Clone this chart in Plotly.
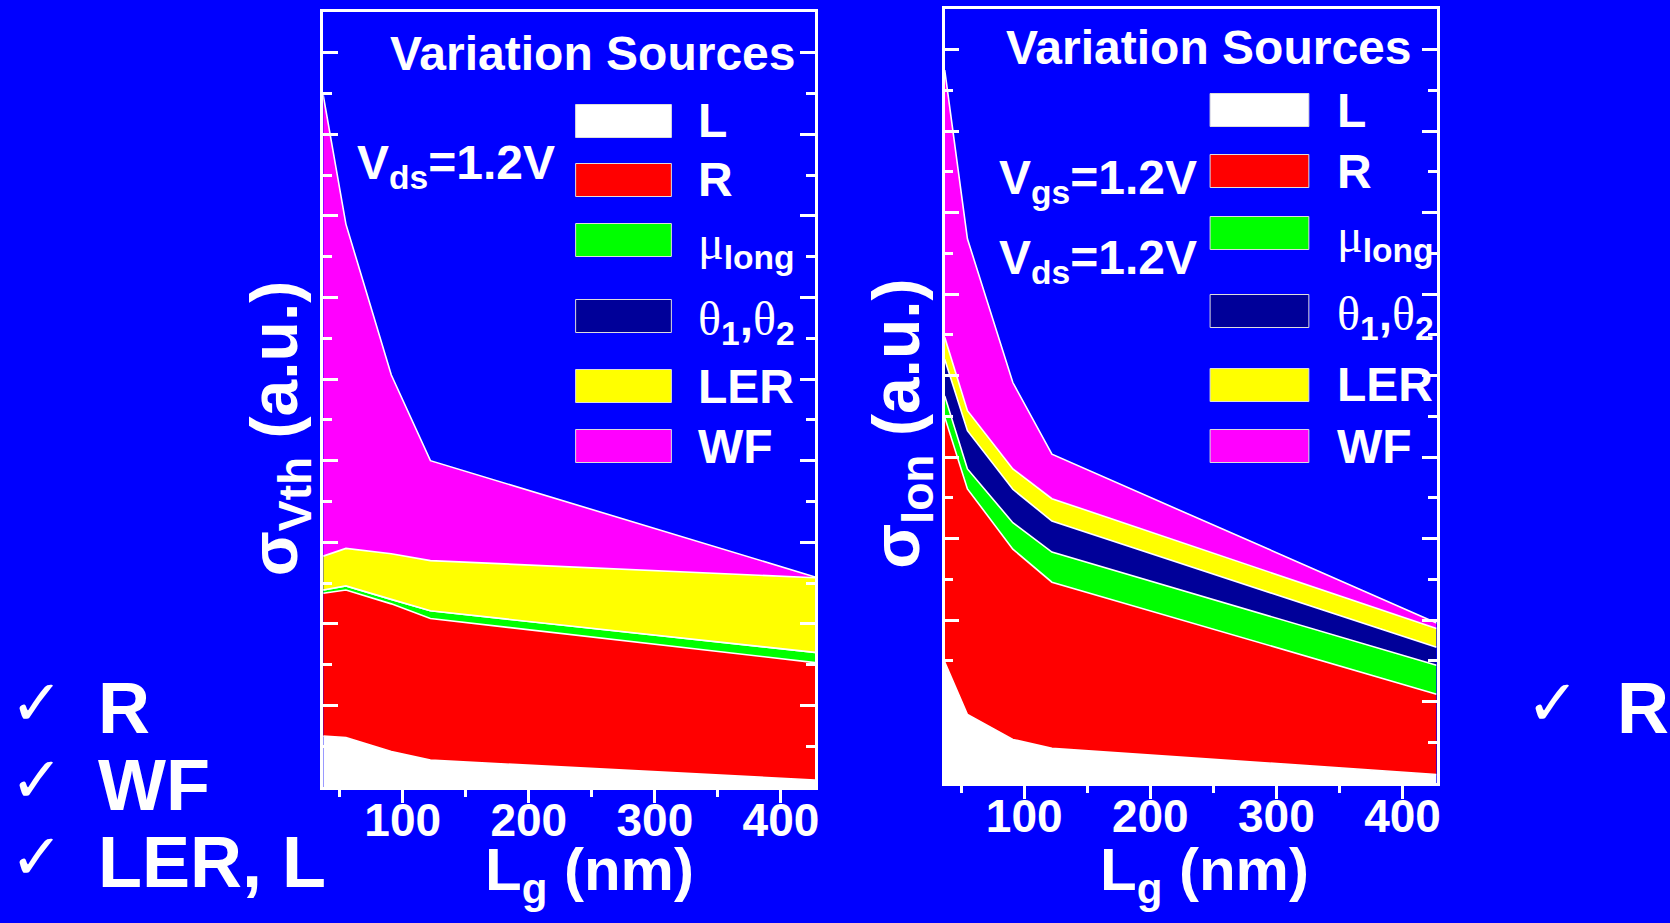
import plotly.graph_objects as go

# gate length (nm) at which the variation was simulated
lg_nm = [37, 55, 91, 122, 427]

# sigma Vth, top edge of each stacked band (a.u.)
vth_L = [1.25, 1.21, 0.87, 0.66, 0.17]
vth_R = [4.75, 4.83, 4.49, 4.13, 3.05]
vth_mu = [4.83, 4.93, 4.60, 4.32, 3.30]
vth_theta = [4.83, 4.93, 4.60, 4.32, 3.30]
vth_LER = [5.66, 5.85, 5.72, 5.55, 5.13]
vth_WF = [16.96, 13.8, 10.1, 8.0, 5.15]

# sigma Ion, top edge of each stacked band (a.u.)
ion_L = [2.97, 1.68, 1.07, 0.85, 0.21]
ion_R = [8.98, 7.22, 5.74, 4.93, 2.18]
ion_mu = [9.50, 7.71, 6.39, 5.67, 2.89]
ion_theta = [10.40, 8.65, 7.21, 6.43, 3.33]
ion_LER = [10.94, 9.14, 7.71, 6.98, 3.79]
ion_WF = [17.5, 13.36, 9.83, 8.07, 3.93]

sources = ["L", "R", "μ<sub>long</sub>", "θ<sub>1</sub>,θ<sub>2</sub>", "LER", "WF"]
colors = ["#FFFFFF", "#FF0000", "#00FF00", "#000099", "#FFFF00", "#FF00FF"]
x_ticks = [100, 200, 300, 400]

BG = "#0000FF"
FONT = "Liberation Sans, Arial, sans-serif"
W, H = 1670, 923


def px(x):
    return x / W


def py(y):
    return 1 - y / H


fig = go.Figure()

panels = [
    ("x", "y", [vth_L, vth_R, vth_mu, vth_theta, vth_LER, vth_WF]),
    ("x2", "y2", [ion_L, ion_R, ion_mu, ion_theta, ion_LER, ion_WF]),
]
for xa, ya, bands in panels:
    for i, (band, col) in enumerate(zip(bands, colors)):
        fig.add_trace(go.Scatter(
            x=lg_nm, y=band, xaxis=xa, yaxis=ya,
            mode="lines", line=dict(color="white", width=1.6),
            fill="tozeroy" if i == 0 else "tonexty", fillcolor=col,
            showlegend=False, hoverinfo="skip",
        ))

xcommon = dict(
    range=[37, 427], tickvals=x_ticks, ticks="outside", ticklen=13, tickwidth=2.5,
    tickcolor="white", showline=True, linecolor="white", linewidth=2.5, mirror=True,
    showgrid=False, zeroline=False, ticklabelstandoff=-22,
    minor=dict(dtick=50, tick0=0, ticklen=7, tickwidth=2.5, tickcolor="white", ticks="outside"),
    tickfont=dict(family=FONT, size=46, color="white", weight="bold"),
)
ycommon = dict(
    range=[0, 19], dtick=2, tick0=0, ticks="inside", ticklen=15, tickwidth=2.5,
    tickcolor="white", showline=True, linecolor="white", linewidth=2.5, mirror="ticks",
    showgrid=False, zeroline=False, showticklabels=False,
    minor=dict(dtick=1, ticklen=9, tickwidth=2.5, tickcolor="white", ticks="inside"),
)
# top ticks point inward, so they get their own overlaying axes
xtop = dict(
    range=[37, 427], tickvals=x_ticks, ticks="inside", ticklen=14, tickwidth=2.5,
    tickcolor="white", showline=False, showgrid=False, zeroline=False,
    showticklabels=False, side="top",
    minor=dict(dtick=50, tick0=0, ticklen=8, tickwidth=2.5, tickcolor="white", ticks="inside"),
)

fig.update_layout(
    width=W, height=H, margin=dict(l=0, r=0, t=0, b=0),
    paper_bgcolor=BG, plot_bgcolor=BG,
    xaxis=dict(domain=[px(324), px(817)], anchor="y", **xcommon),
    yaxis=dict(domain=[py(787), py(12)], anchor="x", **ycommon),
    xaxis2=dict(domain=[px(947), px(1440)], anchor="y2", **xcommon),
    yaxis2=dict(domain=[py(783), py(9)], anchor="x2", **ycommon),
    xaxis3=dict(overlaying="x", anchor="y", **xtop),
    xaxis4=dict(overlaying="x2", anchor="y2", **xtop),
)

ann = []


def text(x, y, s, size, xanchor="center", angle=0):
    ann.append(dict(
        x=px(x), y=py(y), xref="paper", yref="paper", text=s, showarrow=False,
        xanchor=xanchor, yanchor="middle", textangle=angle,
        font=dict(family=FONT, size=size, color="white", weight="bold"),
    ))


# panel headers and bias conditions
text(594, 53, "Variation Sources", 48)
text(1212, 47, "Variation Sources", 48)
text(356, 166, "V<sub>ds</sub>=1.2V", 48, "left")
text(999, 181, "V<sub>gs</sub>=1.2V", 48, "left")
text(999, 261, "V<sub>ds</sub>=1.2V", 48, "left")

# axis titles
text(591, 874, "L<sub>g</sub> (nm)", 60)
text(1207, 874, "L<sub>g</sub> (nm)", 60)
text(280, 428, "σ<sub>Vth</sub> (a.u.)", 66, angle=-90)
text(903, 424, "σ<sub>Ion</sub> (a.u.)", 66, angle=-90)

# hand-made legends (big swatches)
legend_rows = [
    (577, 673, 700, [121, 180, 240, 316, 386, 446]),
    (1213, 1312, 1340, [110, 171, 233, 311, 385, 446]),
]
shapes = []
for x0, x1, xl, centres in legend_rows:
    for lab, col, yc in zip(sources, colors, centres):
        shapes.append(dict(
            type="rect", xref="paper", yref="paper",
            x0=px(x0), x1=px(x1), y0=py(yc + 16.5), y1=py(yc - 16.5),
            fillcolor=col, line=dict(color="#DDDDDD", width=1),
        ))
        if lab.startswith("μ") or lab.startswith("θ"):
            lab = lab.replace("μ", "<span style='font-family:Liberation Serif;font-weight:normal'>μ</span>")
            lab = lab.replace("θ", "<span style='font-family:Liberation Serif;font-weight:normal'>θ</span>")
            text(xl - 2, yc + 6, lab, 48, "left")
        else:
            text(xl - 2, yc, lab, 48, "left")

# check list on the sides
for yc, lab in [(705, "R"), (782, "WF"), (859, "LER, L")]:
    ann.append(dict(x=px(37), y=py(yc - 2), xref="paper", yref="paper", text="✓",
                    showarrow=False, xanchor="center", yanchor="middle",
                    font=dict(family="DejaVu Sans", size=64, color="white", weight="bold")))
    text(96, yc + 3, lab, 72, "left")
ann.append(dict(x=px(1557), y=py(703), xref="paper", yref="paper", text="✓",
                showarrow=False, xanchor="center", yanchor="middle",
                font=dict(family="DejaVu Sans", size=64, color="white", weight="bold")))
text(1619, 708, "R", 72, "left")

fig.update_layout(annotations=ann, shapes=shapes)

# the page's default body margin would shift the figure by 8 px
fig.write_html(
    "out.html",
    config={"displayModeBar": False},
    post_script="document.body.style.margin='0';document.body.style.overflow='hidden';"
                "document.body.style.background='#0000FF';",
)
